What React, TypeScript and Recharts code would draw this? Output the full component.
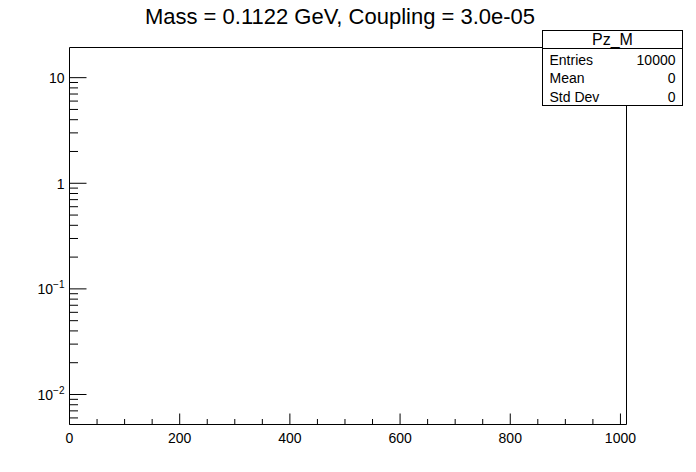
import React from "react";
import { LineChart, Line, XAxis, YAxis, ReferenceArea } from "recharts";

// histogram Pz_M (empty on the visible range)
const binCenters = [50, 150, 250, 350, 450, 550, 650, 750, 850, 950];
const binCounts = [0, 0, 0, 0, 0, 0, 0, 0, 0, 0];

const xDomain = [0, 1011];
const yDomain = [0.0052, 19.3];

const xTicks = [0, 50, 100, 150, 200, 250, 300, 350, 400, 450, 500, 550, 600, 650, 700, 750, 800, 850, 900, 950, 1000];
const xLabelled = [0, 200, 400, 600, 800, 1000];

const yTicks = [
  0.006, 0.007, 0.008, 0.009, 0.01,
  0.02, 0.03, 0.04, 0.05, 0.06, 0.07, 0.08, 0.09, 0.1,
  0.2, 0.3, 0.4, 0.5, 0.6, 0.7, 0.8, 0.9, 1,
  2, 3, 4, 5, 6, 7, 8, 9, 10,
];
const yMajor: Record<string, [string, string]> = {
  "0.01": ["10", "\u22122"],
  "0.1": ["10", "\u22121"],
  "1": ["1", ""],
  "10": ["10", ""],
};

const title = "Mass = 0.1122 GeV, Coupling = 3.0e-05";
const statsName = "Pz_M";
const statsRows = [
  ["Entries", "10000"],
  ["Mean", "0"],
  ["Std Dev", "0"],
];

const FONT = "'Liberation Sans', Arial, Helvetica, sans-serif";
const W = 696;
const H = 472;
const LEFT = 69.5;
const TOP = 47.5;
const PLOT_W = 557;
const PLOT_H = 377;
const BOTTOM = TOP + PLOT_H;

function XTick(props: any) {
  const { x, payload } = props;
  const v = payload.value;
  const major = xLabelled.includes(v);
  const len = major ? 11 : 5.5;
  return (
    <g>
      <line x1={x} x2={x} y1={BOTTOM} y2={BOTTOM - len} stroke="#000" strokeWidth={1} />
      {major && (
        <text x={x} y={BOTTOM + 18} textAnchor="middle" fontSize={14} fontFamily={FONT} fill="#000">
          {v}
        </text>
      )}
    </g>
  );
}

function YTick(props: any) {
  const { y, payload } = props;
  const lab = yMajor[String(payload.value)];
  const len = lab ? 17 : 8.5;
  return (
    <g>
      <line x1={LEFT} x2={LEFT + len} y1={y} y2={y} stroke="#000" strokeWidth={1} />
      {lab && (
        <text x={LEFT - 5} y={y + 5.5} textAnchor="end" fontSize={14} fontFamily={FONT} fill="#000">
          <tspan>{lab[0]}</tspan>
          {lab[1] && (
            <tspan dy={-6} fontSize={10}>
              {lab[1]}
            </tspan>
          )}
        </text>
      )}
    </g>
  );
}

export default function App() {
  const data = binCenters.map((x, i) => ({
    x,
    count: binCounts[i] > 0 ? binCounts[i] : null,
  }));

  return (
    <div style={{ position: "absolute", left: 0, top: 0, width: W, height: H, background: "#fff" }}>
      <LineChart
        width={W}
        height={H}
        data={data}
        margin={{ top: TOP, right: W - LEFT - PLOT_W, bottom: H - BOTTOM - 30, left: 0.5 }}
      >
        <XAxis
          dataKey="x"
          type="number"
          domain={xDomain}
          allowDataOverflow
          ticks={xTicks}
          interval={0}
          tick={<XTick />}
          tickLine={false}
          axisLine={false}
          height={30}
        />
        <YAxis
          type="number"
          scale="log"
          domain={yDomain}
          allowDataOverflow
          ticks={yTicks}
          interval={0}
          tick={<YTick />}
          tickLine={false}
          axisLine={false}
          width={69}
        />
        <ReferenceArea
          x1={xDomain[0]}
          x2={xDomain[1]}
          y1={yDomain[0]}
          y2={yDomain[1]}
          fill="none"
          fillOpacity={0}
          stroke="#000"
          strokeWidth={1}
          ifOverflow="visible"
        />
        <Line
          dataKey="count"
          type="stepAfter"
          stroke="#000"
          dot={false}
          isAnimationActive={false}
        />
      </LineChart>
      <svg
        width={W}
        height={H}
        style={{ position: "absolute", left: 0, top: 0, pointerEvents: "none" }}
      >
        <text x={340} y={24} textAnchor="middle" fontSize={22} fontFamily={FONT} fill="#000">
          {title}
        </text>
        <rect x={542.5} y={30.5} width={140} height={75} fill="#fff" stroke="#000" strokeWidth={1} />
        <line x1={542.5} x2={682.5} y1={48.5} y2={48.5} stroke="#000" strokeWidth={1} />
        <text x={612.5} y={45} textAnchor="middle" fontSize={16} fontFamily={FONT} fill="#000">
          {statsName}
        </text>
        {statsRows.map((r, i) => (
          <g key={r[0]}>
            <text x={549.5} y={64.5 + i * 18.7} fontSize={14} fontFamily={FONT} fill="#000">
              {r[0]}
            </text>
            <text x={675.5} y={64.5 + i * 18.7} textAnchor="end" fontSize={14} fontFamily={FONT} fill="#000">
              {r[1]}
            </text>
          </g>
        ))}
      </svg>
    </div>
  );
}
